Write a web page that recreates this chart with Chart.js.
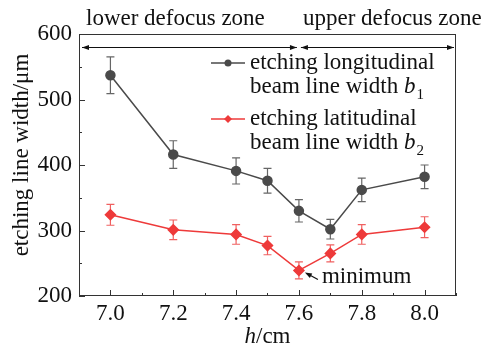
<!DOCTYPE html>
<html>
<head>
<meta charset="utf-8">
<script src="https://cdn.jsdelivr.net/npm/chart.js@4.4.0/dist/chart.umd.min.js"></script>
<style>
  html, body { margin: 0; padding: 0; background: #fff; }
  #wrap { width: 490px; height: 349px; position: relative; }
</style>
</head>
<body>
<div id="wrap"><canvas id="widthChart"></canvas></div>
<script>
// data
const hValues = [7.0, 7.2, 7.4, 7.5, 7.6, 7.7, 7.8, 8.0];
const longWidth = [537, 416, 391, 376, 330, 302, 362, 382];
const longErr = [28, 21, 20, 19, 17, 15, 18, 18];
const latWidth = [324, 301, 294, 277, 239, 265, 294, 305];
const latErr = [16, 15, 15, 14, 13, 13, 15, 16];
const xTicks = [7.0, 7.2, 7.4, 7.6, 7.8, 8.0];
const yTicks = [200, 300, 400, 500, 600];
const zoneNames = ["lower defocus zone", "upper defocus zone"];
const zoneSplit = 7.6;
const minimumAt = 7.6;

const FONT = "'Liberation Serif', 'Times New Roman', serif";
const GRAY = "#4a4a4a";
const RED = "#ee3a3a";

function toPoints(xs, ys) {
  return xs.map((x, i) => ({ x: x, y: ys[i] }));
}

// vertical error bars, drawn under the markers
const errorBars = {
  id: "errorBars",
  beforeDatasetsDraw(chart) {
    const ctx = chart.ctx;
    const xs = chart.scales.x, ys = chart.scales.y;
    chart.data.datasets.forEach((ds) => {
      ctx.save();
      ctx.strokeStyle = ds.errColor;
      ctx.lineWidth = 1.2;
      ds.data.forEach((p, i) => {
        const px = xs.getPixelForValue(p.x);
        const top = ys.getPixelForValue(p.y + ds.err[i]);
        const bot = ys.getPixelForValue(p.y - ds.err[i]);
        ctx.beginPath();
        ctx.moveTo(px, top); ctx.lineTo(px, bot);
        ctx.moveTo(px - 4, top); ctx.lineTo(px + 4, top);
        ctx.moveTo(px - 4, bot); ctx.lineTo(px + 4, bot);
        ctx.stroke();
      });
      ctx.restore();
    });
  }
};

function arrowHead(ctx, x, y, dir) {
  ctx.beginPath();
  ctx.moveTo(x, y);
  ctx.lineTo(x - dir * 7, y - 2.5);
  ctx.lineTo(x - dir * 7, y + 2.5);
  ctx.closePath();
  ctx.fill();
}

const frameAndNotes = {
  id: "frameAndNotes",
  afterDraw(chart) {
    const ctx = chart.ctx;
    const a = chart.chartArea;
    const xs = chart.scales.x, ys = chart.scales.y;
    ctx.save();

    // frame
    ctx.strokeStyle = "#333";
    ctx.lineWidth = 1;
    ctx.strokeRect(a.left + 0.5, a.top + 0.5, a.right - a.left - 1, a.bottom - a.top - 1);

    // inward ticks, major + minor
    ctx.beginPath();
    for (let v = 6.9; v <= 8.1001; v += 0.1) {
      const px = Math.round(xs.getPixelForValue(v)) + 0.5;
      const major = xTicks.some((t) => Math.abs(t - v) < 1e-6);
      ctx.moveTo(px, a.bottom);
      ctx.lineTo(px, a.bottom - (major ? 6 : 3));
    }
    for (let v = 200; v <= 600; v += 50) {
      const py = Math.round(ys.getPixelForValue(v)) + 0.5;
      const major = yTicks.includes(v);
      ctx.moveTo(a.left, py);
      ctx.lineTo(a.left + (major ? 6 : 3), py);
    }
    ctx.stroke();

    // defocus zones
    const split = xs.getPixelForValue(zoneSplit);
    const ay = a.top + 13.5;
    ctx.fillStyle = "#111";
    ctx.strokeStyle = "#111";
    ctx.beginPath();
    ctx.moveTo(a.left + 3, ay); ctx.lineTo(split - 2, ay);
    ctx.moveTo(split + 2, ay); ctx.lineTo(a.right - 2, ay);
    ctx.stroke();
    arrowHead(ctx, a.left + 3, ay, -1);
    arrowHead(ctx, split - 2, ay, 1);
    arrowHead(ctx, split + 2, ay, -1);
    arrowHead(ctx, a.right - 2, ay, 1);

    ctx.font = "23px " + FONT;
    ctx.textBaseline = "alphabetic";
    ctx.textAlign = "left";
    ctx.fillText(zoneNames[0], a.left + 7, 25);
    ctx.fillText(zoneNames[1], split + 4, 25);

    // legend
    const lx = a.left + 132, tx = a.left + 171;
    const rows = [
      { color: GRAY, shape: "circle", y: 63, lines: ["etching longitudinal", "beam line width "], sub: "1" },
      { color: RED, shape: "diamond", y: 119, lines: ["etching latitudinal", "beam line width "], sub: "2" }
    ];
    rows.forEach((r) => {
      ctx.strokeStyle = r.color;
      ctx.fillStyle = r.color;
      ctx.lineWidth = 1.5;
      ctx.beginPath();
      ctx.moveTo(lx, r.y); ctx.lineTo(lx + 34, r.y);
      ctx.stroke();
      ctx.beginPath();
      if (r.shape === "circle") {
        ctx.arc(lx + 17, r.y, 3.5, 0, Math.PI * 2);
      } else {
        ctx.moveTo(lx + 17, r.y - 4); ctx.lineTo(lx + 21, r.y);
        ctx.lineTo(lx + 17, r.y + 4); ctx.lineTo(lx + 13, r.y);
        ctx.closePath();
      }
      ctx.fill();
      ctx.fillStyle = "#111";
      ctx.font = "23px " + FONT;
      ctx.fillText(r.lines[0], tx, r.y + 6);
      ctx.fillText(r.lines[1], tx, r.y + 30);
      let w = ctx.measureText(r.lines[1]).width;
      ctx.font = "italic 23px " + FONT;
      ctx.fillText("b", tx + w, r.y + 30);
      w += ctx.measureText("b").width;
      ctx.font = "15px " + FONT;
      ctx.fillText(r.sub, tx + w + 1, r.y + 36);
    });

    // minimum annotation
    const i = hValues.indexOf(minimumAt);
    const mx = xs.getPixelForValue(minimumAt);
    const my = ys.getPixelForValue(latWidth[i]);
    ctx.strokeStyle = "#111";
    ctx.fillStyle = "#111";
    ctx.lineWidth = 1.2;
    ctx.beginPath();
    ctx.moveTo(mx + 19, my + 9); ctx.lineTo(mx + 8, my + 3);
    ctx.stroke();
    ctx.save();
    ctx.translate(mx + 6, my + 2);
    ctx.rotate(Math.atan2(6, 11));
    arrowHead(ctx, 0, 0, -1);
    ctx.restore();
    ctx.font = "23px " + FONT;
    ctx.fillText("minimum", mx + 23, my + 13);

    // axis titles
    ctx.fillStyle = "#111";
    ctx.font = "italic 23px " + FONT;
    const hw = ctx.measureText("h").width;
    ctx.font = "23px " + FONT;
    const rest = ctx.measureText("/cm").width;
    const cx = (a.left + a.right) / 2 - (hw + rest) / 2;
    ctx.font = "italic 23px " + FONT;
    ctx.fillText("h", cx, 343);
    ctx.font = "23px " + FONT;
    ctx.fillText("/cm", cx + hw, 343);

    ctx.save();
    ctx.translate(28, 155);
    ctx.rotate(-Math.PI / 2);
    ctx.textAlign = "center";
    ctx.fillText("etching line width/\u03bcm", 0, 0);
    ctx.restore();

    ctx.restore();
  }
};

const ctx = document.getElementById("widthChart").getContext("2d");
new Chart(ctx, {
  type: "line",
  data: {
    datasets: [
      {
        label: "etching longitudinal beam line width b1",
        data: toPoints(hValues, longWidth),
        err: longErr,
        errColor: "#666",
        borderColor: GRAY,
        backgroundColor: GRAY,
        borderWidth: 1.5,
        pointStyle: "circle",
        pointRadius: 4.5,
        pointHoverRadius: 4.5,
        tension: 0
      },
      {
        label: "etching latitudinal beam line width b2",
        data: toPoints(hValues, latWidth),
        err: latErr,
        errColor: "#f06060",
        borderColor: RED,
        backgroundColor: RED,
        borderWidth: 1.5,
        pointStyle: "rectRot",
        pointRadius: 5,
        pointHoverRadius: 5,
        tension: 0
      }
    ]
  },
  options: {
    responsive: true,
    maintainAspectRatio: false,
    animation: false,
    events: [],
    layout: { padding: { top: 34, right: 34, left: 0, bottom: 0 } },
    plugins: { legend: { display: false }, tooltip: { enabled: false } },
    scales: {
      x: {
        type: "linear",
        min: 6.9,
        max: 8.1,
        afterBuildTicks: (s) => { s.ticks = xTicks.map((v) => ({ value: v })); },
        afterFit: (s) => { s.height = 53; },
        grid: { display: false, drawTicks: false },
        border: { display: false },
        ticks: {
          padding: 4,
          color: "#111",
          font: { family: FONT, size: 23 },
          maxRotation: 0,
          callback: (v) => v.toFixed(1)
        }
      },
      y: {
        min: 200,
        max: 600,
        afterBuildTicks: (s) => { s.ticks = yTicks.map((v) => ({ value: v })); },
        afterFit: (s) => { s.width = 79; },
        grid: { display: false, drawTicks: false },
        border: { display: false },
        ticks: {
          padding: 7,
          color: "#111",
          font: { family: FONT, size: 23 },
          callback: (v) => String(v)
        }
      }
    }
  },
  plugins: [errorBars, frameAndNotes]
});
</script>
</body>
</html>
